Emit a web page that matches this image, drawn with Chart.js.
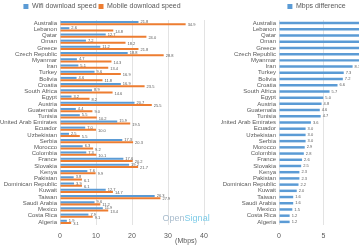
<!DOCTYPE html>
<html>
<head>
<meta charset="utf-8">
<script src="https://cdn.jsdelivr.net/npm/chart.js@4.4.0/dist/chart.umd.min.js"></script>
<style>
  html, body { margin: 0; padding: 0; background: #fff; width: 359px; height: 250px; overflow: hidden; position: relative; }
  canvas { position: absolute; top: 0; }
  #speedChart { left: 0; }
  #diffChart { left: 221px; }
</style>
</head>
<body>
<canvas id="speedChart" width="250" height="250"></canvas>
<canvas id="diffChart" width="248" height="250"></canvas>
<script>
const categories = ['Australia', 'Lebanon', 'Qatar', 'Oman', 'Greece', 'Czech Republic', 'Myanmar', 'Iran',
    'Turkey', 'Bolivia', 'Croatia', 'South Africa', 'Egypt', 'Austria', 'Guatemala', 'Tunisia',
    'United Arab Emirates', 'Ecuador', 'Uzbekistan', 'Serbia', 'Morocco', 'Colombia', 'France', 'Slovakia',
    'Kenya', 'Pakistan', 'Dominican Republic', 'Kuwait', 'Taiwan', 'Saudi Arabia', 'Mexico', 'Costa Rica', 'Algeria'];

const wifiSpeed = [21.8, 2.6, 12.7, 7.2, 11.2, 18.8, 4.7, 5.1, 9.6, 4.6, 16.9, 8.9, 3.2, 20.7, 4.4, 5.5,
    15.9, 7.0, 2.5, 17.3, 6.3, 7.3, 17.6, 19.2, 7.6, 3.8, 3.9, 12.7, 26.3, 9.6, 11.9, 7.9, 1.9];

const mobileSpeed = [34.9, 14.8, 24.0, 18.2, 21.8, 28.8, 14.3, 13.4, 16.9, 11.8, 23.5, 14.6, 8.2, 25.5, 9.0, 10.2,
    19.5, 10.0, 5.5, 20.3, 9.2, 10.1, 20.2, 21.7, 9.9, 6.1, 6.1, 14.7, 27.9, 11.2, 13.4, 9.1, 3.1];

const mbpsDifference = [13.1, 12.2, 11.3, 11.0, 10.6, 10.0, 9.6, 8.3, 7.3, 7.2, 6.6, 5.7, 5.0, 4.8, 4.6, 4.7,
    3.6, 3.0, 3.0, 3.0, 2.9, 2.8, 2.6, 2.5, 2.3, 2.3, 2.2, 2.0, 1.6, 1.6, 1.5, 1.2, 1.2];

const speedTicks = [0, 10, 20, 30, 40];
const diffTicks = [0, 5, 10, 15];

const FONT = '"Liberation Sans", Arial, sans-serif';
const TEXT = '#595959';
const BLUE = '#5B9BD5';
const ORANGE = '#ED7D31';

// 막대 끝에 값 표시
const barLabels = {
    id: 'barLabels',
    afterDatasetsDraw(chart, args, opts) {
        const ctx = chart.ctx;
        ctx.save();
        ctx.font = `${opts.size || 4}px ${FONT}`;
        ctx.fillStyle = TEXT;
        ctx.textBaseline = 'middle';
        chart.data.datasets.forEach((ds, i) => {
            const dy = (opts.offsets && opts.offsets[i]) || 0;
            chart.getDatasetMeta(i).data.forEach((bar, j) => {
                ctx.fillText(ds.data[j].toFixed(1), bar.x + 2, bar.y + dy);
            });
        });
        ctx.restore();
    }
};

// 단위 표시와 워터마크
const speedExtras = {
    id: 'speedExtras',
    afterDraw(chart) {
        const ctx = chart.ctx;
        const x = chart.scales.x;
        const y = chart.scales.y;
        ctx.save();
        ctx.font = `7px ${FONT}`;
        ctx.fillStyle = TEXT;
        ctx.textAlign = 'center';
        ctx.textBaseline = 'middle';
        ctx.fillText('(Mbps)', x.getPixelForValue(35), 241);

        ctx.font = `9px ${FONT}`;
        ctx.textAlign = 'left';
        const wx = x.getPixelForValue(28.5);
        const wy = y.getPixelForValue(31.4);
        ctx.fillStyle = '#a9bccd';
        ctx.fillText('Open', wx, wy);
        ctx.fillStyle = '#7ccbe8';
        ctx.fillText('Signal', wx + ctx.measureText('Open').width, wy);
        ctx.restore();
    }
};

function baseOptions(maxVal, step, yWidth, padRight) {
    return {
        indexAxis: 'y',
        responsive: false,
        devicePixelRatio: 1,
        animation: false,
        layout: { padding: { left: 0, right: padRight, top: 1, bottom: 0 } },
        plugins: {
            legend: {
                position: 'top',
                labels: {
                    boxWidth: 5,
                    boxHeight: 5,
                    padding: 2,
                    color: TEXT,
                    font: { size: 7, family: FONT }
                }
            },
            tooltip: { enabled: false },
            barLabels: { size: 4 }
        },
        scales: {
            x: {
                min: 0,
                max: maxVal,
                ticks: { stepSize: step, padding: 7, color: TEXT, font: { size: 7, family: FONT } },
                grid: { color: '#e3e3e3', lineWidth: 1, drawTicks: false },
                border: { display: false },
                afterFit: s => { s.height = 25; }
            },
            y: {
                ticks: { autoSkip: false, padding: 3, color: TEXT, font: { size: 6, family: FONT } },
                grid: { display: false, drawTicks: false },
                border: { display: false },
                afterFit: s => { s.width = yWidth; }
            }
        }
    };
}

const speedOptions = baseOptions(speedTicks[speedTicks.length - 1], 10, 60, 46);
speedOptions.plugins.barLabels.offsets = [0, 1];

new Chart(document.getElementById('speedChart'), {
    type: 'bar',
    data: {
        labels: categories,
        datasets: [
            { label: 'Wifi download speed', data: wifiSpeed, backgroundColor: BLUE,
              categoryPercentage: 0.72, barPercentage: 0.9 },
            { label: 'Mobile download speed', data: mobileSpeed, backgroundColor: ORANGE,
              categoryPercentage: 0.72, barPercentage: 0.9 }
        ]
    },
    options: speedOptions,
    plugins: [barLabels, speedExtras]
});

new Chart(document.getElementById('diffChart'), {
    type: 'bar',
    data: {
        labels: categories,
        datasets: [
            { label: 'Mbps difference', data: mbpsDifference, backgroundColor: BLUE,
              categoryPercentage: 0.8, barPercentage: 0.5 }
        ]
    },
    options: baseOptions(diffTicks[diffTicks.length - 1], 5, 58, 57),
    plugins: [barLabels]
});
</script>
</body>
</html>
